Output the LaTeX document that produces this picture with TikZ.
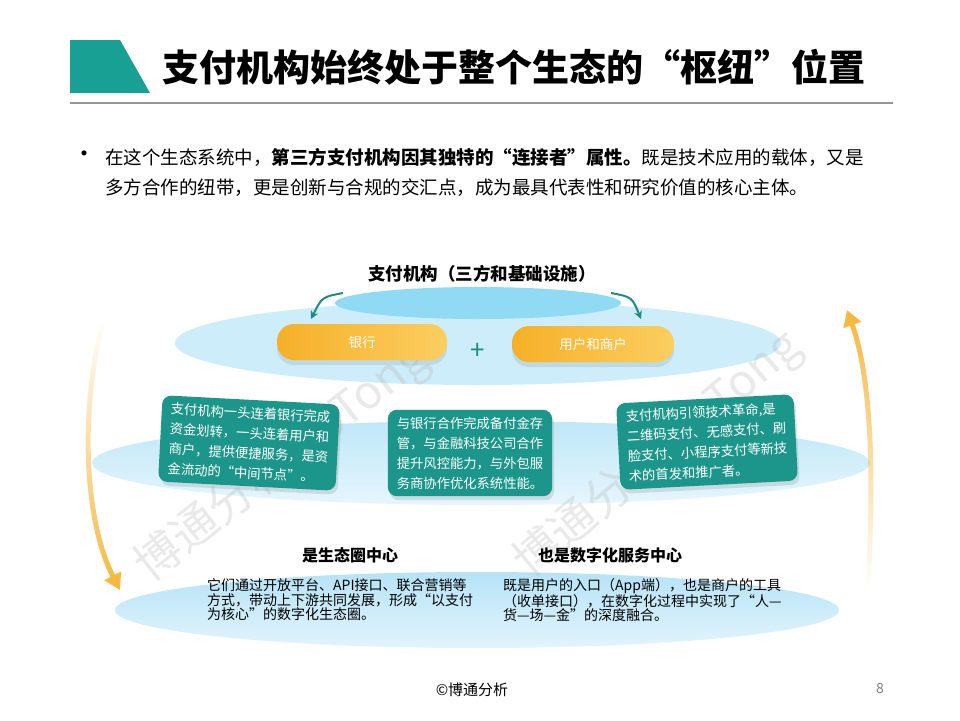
\documentclass[tikz,border=0pt]{standalone}
\usepackage{fontspec}
\setmainfont{Noto Sans CJK SC}
\usetikzlibrary{shadows,fadings,arrows.meta,calc}
\definecolor{titleteal}{RGB}{24,160,148}
\definecolor{boxteal}{RGB}{28,150,138}
\definecolor{arrteal}{RGB}{30,140,130}
\definecolor{orangeA}{RGB}{246,176,40}
\definecolor{orangeB}{RGB}{251,206,96}
\definecolor{arrorange}{RGB}{245,183,62}
\definecolor{skyA}{RGB}{206,237,250}
\definecolor{skyB}{RGB}{145,218,244}
\definecolor{skyC}{RGB}{190,231,248}
\definecolor{skyD}{RGB}{182,227,247}
\definecolor{linegray}{RGB}{150,150,150}
\tikzset{
  pill/.style={rounded corners=17, minimum width=170, minimum height=36,
    left color=orangeA, right color=orangeB, text=white, inner sep=0,
    font=\fontsize{13.5}{15}\selectfont,
    drop shadow={opacity=0.18, shadow xshift=0pt, shadow yshift=-5pt}},
  tbox/.style={rounded corners=9, fill=boxteal, text=white, align=left,
    inner xsep=9, inner ysep=7, font=\fontsize{13.3}{20}\selectfont,
    drop shadow={opacity=0.22, shadow xshift=2pt, shadow yshift=-4pt}},
  bodytext/.style={anchor=west, inner sep=0, font=\fontsize{18.5}{22}\selectfont},
  smalltext/.style={anchor=west, inner sep=0, align=left, font=\fontsize{14}{14.5}\selectfont},
  headtext/.style={inner sep=0, font=\fontsize{16}{18}\selectfont\bfseries},
  tealarrow/.style={draw=arrteal, line width=2, -{Stealth[length=8, width=8]}},
  orangearrow/.style={draw=arrorange, line width=5, -{Triangle[length=16, width=18]}},
  wmark/.style={text=gray!60, opacity=0.28, font=\fontsize{46}{48}\selectfont, inner sep=0}
}
\begin{document}
\begin{tikzpicture}[x=1pt,y=-1pt]
\useasboundingbox (0,0) rectangle (960,720);
\fill[white] (0,0) rectangle (960,720);

% title
\fill[titleteal] (70,40) -- (120,40) -- (150,93) -- (70,93) -- cycle;
\node[anchor=west, inner sep=0, font=\fontsize{37}{40}\selectfont\bfseries] (title) at (162,67)
  {支付机构始终处于整个生态的“枢纽”位置};
\draw[linegray, line width=1.2] (70,103) -- (893,103);

% bullet paragraph
\node[inner sep=0, font=\fontsize{24}{24}\selectfont] (bul) at (84,157) {•};
\node[bodytext] (p1) at (105,157)
  {在这个生态系统中，\textbf{第三方支付机构因其独特的“连接者”属性。}既是技术应用的载体，又是};
\node[bodytext] (p2) at (105,188)
  {多方合作的纽带，更是创新与合规的交汇点，成为最具代表性和研究价值的核心主体。};

% ellipses
\shade[top color=skyD, bottom color=skyA!60!white] (477,610) ellipse [x radius=362, y radius=38];
\shade[top color=skyC, bottom color=skyA!50!white] (481,463) ellipse [x radius=389, y radius=42];
\fill[skyA] (478,343) ellipse [x radius=303, y radius=42];
\fill[skyB] (478,303) ellipse [x radius=143, y radius=16];

% watermarks
\node[wmark, rotate=38] (wm1) at (282,463) {博通分析 BoTong};
\node[wmark, rotate=40] (wm2) at (658,455) {博通分析 BoTong};

% top label
\node[inner sep=0, font=\fontsize{17.5}{20}\selectfont\bfseries] (lbl) at (482,274)
  {支付机构（三方和基础设施）};

% pills
\node[pill] (bank) at (362,342) {银行};
\node[pill, minimum width=162] (user) at (593,344) {用户和商户};
\node[inner sep=0, text=arrteal, font=\fontsize{26}{26}\selectfont] (plus) at (478,351) {+};

% teal curved arrows
\coordinate (la1) at (343,293);
\coordinate (la2) at (311,319);
\coordinate (ra1) at (611,293);
\coordinate (ra2) at (641,319);
\draw[tealarrow] (la1) .. controls (322,297) .. (la2);
\draw[tealarrow] (ra1) .. controls (632,297) .. (ra2);

% teal boxes
\node[tbox, rotate=-3] (b1) at (249,443)
  {支付机构一头连着银行完成\\资金划转，一头连着用户和\\商户，提供便捷服务，是资\\金流动的“中间节点”。};
\node[tbox] (b2) at (470,453)
  {与银行合作完成备付金存\\管，与金融科技公司合作\\提升风控能力，与外包服\\务商协作优化系统性能。};
\node[tbox, rotate=3] (b3) at (707,442)
  {支付机构引领技术革命,是\\二维码支付、无感支付、刷\\脸支付、小程序支付等新技\\术的首发和推广者。};

% bottom headings and text
\node[headtext] (h1) at (350,555) {是生态圈中心};
\node[headtext] (h2) at (610,555) {也是数字化服务中心};
\node[smalltext] (t1) at (207,600)
  {它们通过开放平台、API接口、联合营销等\\方式，带动上下游共同发展，形成“以支付\\为核心”的数字化生态圈。};
\node[smalltext] (t2) at (503,600)
  {既是用户的入口（App端），也是商户的工具\\（收单接口），在数字化过程中实现了“人—\\货—场—金”的深度融合。};

% orange cycle arrows
\coordinate (oa1) at (103,322);
\coordinate (oa2) at (120,590);
\coordinate (ob1) at (868,585);
\coordinate (ob2) at (847,310);
\draw[orangearrow, path fading=north] (oa1) .. controls (80,410) and (84,520) .. (oa2);
\draw[orangearrow, path fading=south] (ob1) .. controls (874,480) and (872,380) .. (ob2);

% footer
\node[inner sep=0, font=\fontsize{15}{17}\selectfont] (foot) at (472,690) {©博通分析};
\node[inner sep=0, text=gray, font=\fontsize{14}{16}\selectfont] (pg) at (880,688) {8};
\end{tikzpicture}
\end{document}
